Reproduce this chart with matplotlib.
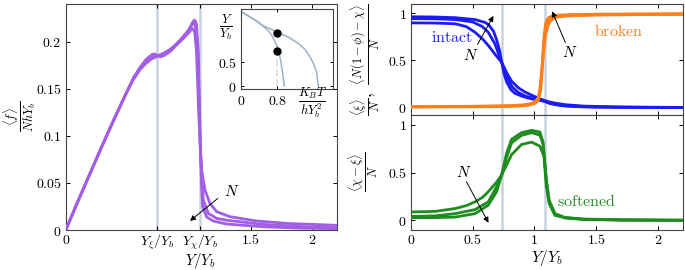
import matplotlib
matplotlib.use('Agg')
import matplotlib.pyplot as plt

plt.rcParams['mathtext.fontset'] = 'cm'
plt.rcParams['font.family'] = 'serif'
plt.rcParams['font.size'] = 10

# ---- data ----
y_xi = 0.74      # Y_xi / Y_b
y_chi = 1.09     # Y_chi / Y_b

# left panel: <f>/(N h Y_b), three N values (small, medium, large)
f_x_small = [0, 0.1, 0.2, 0.3, 0.4, 0.5, 0.55, 0.6, 0.65, 0.7, 0.74, 0.8, 0.85, 0.9, 0.95, 1.0, 1.025, 1.045,
             1.06, 1.08, 1.1, 1.129, 1.169, 1.224, 1.331, 1.548, 1.8, 2.2]
f_y_small = [0, 0.031, 0.061, 0.091, 0.12, 0.148, 0.16, 0.17, 0.177, 0.182, 0.1845, 0.188, 0.192, 0.197, 0.203,
             0.21, 0.214, 0.211, 0.19, 0.12, 0.065, 0.0425, 0.0283, 0.0195, 0.0142, 0.0096, 0.007, 0.005]
f_x_mid = [0, 0.1, 0.2, 0.3, 0.4, 0.5, 0.55, 0.6, 0.65, 0.7, 0.74, 0.77, 0.8, 0.85, 0.9, 0.95, 1.0, 1.035, 1.05,
           1.07, 1.09, 1.115, 1.156, 1.224, 1.3, 1.412, 1.6, 1.9, 2.2]
f_y_mid = [0, 0.031, 0.061, 0.091, 0.12, 0.148, 0.161, 0.172, 0.18, 0.185, 0.1855, 0.186, 0.188, 0.192, 0.198,
           0.205, 0.213, 0.22, 0.218, 0.19, 0.09, 0.032, 0.0177, 0.0124, 0.0105, 0.0088, 0.006, 0.0038, 0.0025]
f_x_large = [0, 0.1, 0.2, 0.3, 0.4, 0.5, 0.55, 0.6, 0.65, 0.7, 0.72, 0.745, 0.77, 0.8, 0.85, 0.9, 0.95, 1.0, 1.03,
             1.045, 1.06, 1.075, 1.09, 1.1, 1.11, 1.143, 1.196, 1.3, 1.412, 1.6, 1.9, 2.2]
f_y_large = [0, 0.031, 0.061, 0.091, 0.12, 0.148, 0.162, 0.172, 0.181, 0.1865, 0.187, 0.185, 0.184, 0.1855,
             0.19, 0.197, 0.204, 0.213, 0.221, 0.223, 0.219, 0.19, 0.1, 0.05, 0.025, 0.014, 0.0096, 0.0065,
             0.0053, 0.0035, 0.002, 0.0014]

# inset: phase diagram
ph_x_outer = [0, 0.2, 0.35, 0.46, 0.82, 1.05, 1.26, 1.4, 1.515, 1.6, 1.66, 1.70]
ph_y_outer = [1.58, 1.46, 1.37, 1.29, 1.13, 1.03, 0.90, 0.78, 0.62, 0.46, 0.30, 0.0]
ph_x_inner = [0, 0.2, 0.35, 0.46, 0.6, 0.678, 0.787, 0.84, 0.88, 0.93, 0.953]
ph_y_inner = [1.58, 1.46, 1.37, 1.29, 1.17, 1.076, 0.865, 0.70, 0.51, 0.196, 0.0]
dot_x = [0.8, 0.8]
dot_y = [1.11, 0.745]

# top right: intact and broken fractions
in_x_small = [0, 0.2, 0.36, 0.45, 0.52, 0.58, 0.627, 0.68, 0.736, 0.78, 0.816, 0.87, 0.924, 0.98, 1.032, 1.08,
              1.12, 1.167, 1.25, 1.4, 1.7, 2.2]
in_y_small = [0.90, 0.898, 0.89, 0.86, 0.80, 0.73, 0.66, 0.57, 0.48, 0.36, 0.28, 0.21, 0.165, 0.13, 0.10, 0.075,
              0.06, 0.047, 0.03, 0.015, 0.005, 0.001]
in_x_mid = [0, 0.2, 0.36, 0.5, 0.58, 0.627, 0.68, 0.736, 0.78, 0.82, 0.87, 0.93, 1.0, 1.06, 1.12, 1.2, 1.3, 1.5,
            1.8, 2.2]
in_y_mid = [0.945, 0.943, 0.935, 0.91, 0.86, 0.8, 0.68, 0.48, 0.32, 0.22, 0.16, 0.12, 0.095, 0.075, 0.05, 0.028,
            0.014, 0.005, 0.002, 0.0]
in_x_large = [0, 0.2, 0.36, 0.52, 0.6, 0.63, 0.67, 0.695, 0.72, 0.736, 0.755, 0.776, 0.81, 0.843, 0.9, 0.951, 1.0,
              1.05, 1.086, 1.12, 1.167, 1.25, 1.4, 1.7, 2.2]
in_y_large = [0.965, 0.962, 0.955, 0.935, 0.905, 0.88, 0.81, 0.72, 0.6, 0.48, 0.36, 0.27, 0.19, 0.15, 0.12, 0.1,
              0.085, 0.075, 0.064, 0.045, 0.03, 0.015, 0.006, 0.002, 0.0]

br_x_small = [0, 0.5, 0.8, 0.9, 0.95, 1.0, 1.03, 1.045, 1.06, 1.075, 1.09, 1.11, 1.13, 1.16, 1.2, 1.3, 1.5, 1.8, 2.2]
br_y_small = [0.01, 0.013, 0.02, 0.027, 0.035, 0.055, 0.1, 0.2, 0.4, 0.6, 0.76, 0.87, 0.92, 0.95, 0.965, 0.975,
              0.982, 0.987, 0.99]
br_x_mid = [0, 0.5, 0.8, 0.9, 0.95, 1.0, 1.03, 1.05, 1.06, 1.07, 1.08, 1.09, 1.1, 1.12, 1.15, 1.2, 1.3, 1.5, 1.8,
            2.2]
br_y_mid = [0.008, 0.01, 0.015, 0.02, 0.028, 0.045, 0.08, 0.18, 0.33, 0.52, 0.7, 0.83, 0.9, 0.945, 0.965, 0.975,
            0.982, 0.988, 0.991, 0.994]
br_x_large = [0, 0.5, 0.8, 0.9, 0.95, 1.0, 1.03, 1.05, 1.06, 1.07, 1.08, 1.09, 1.1, 1.12, 1.15, 1.2, 1.3, 1.5,
              1.8, 2.2]
br_y_large = [0.005, 0.007, 0.012, 0.017, 0.024, 0.04, 0.07, 0.18, 0.38, 0.6, 0.78, 0.88, 0.93, 0.96, 0.975,
              0.983, 0.988, 0.992, 0.995, 0.997]

# bottom right: softened fraction
so_x_small = [0, 0.2, 0.358, 0.45, 0.52, 0.58, 0.627, 0.695, 0.736, 0.776, 0.816, 0.897, 0.978, 1.045, 1.078,
              1.097, 1.12, 1.167, 1.25, 1.4, 1.7, 2.2]
so_y_small = [0.088, 0.095, 0.124, 0.155, 0.194, 0.24, 0.299, 0.40, 0.476, 0.58, 0.687, 0.793, 0.817, 0.775,
              0.669, 0.352, 0.176, 0.053, 0.03, 0.015, 0.007, 0.003]
so_x_mid = [0, 0.2, 0.358, 0.52, 0.627, 0.695, 0.736, 0.776, 0.816, 0.897, 0.978, 1.045, 1.07, 1.085, 1.097,
            1.12, 1.167, 1.25, 1.4, 1.7, 2.2]
so_y_mid = [0.042, 0.048, 0.071, 0.113, 0.194, 0.352, 0.476, 0.66, 0.81, 0.888, 0.916, 0.89, 0.8, 0.6, 0.423,
            0.211, 0.071, 0.03, 0.012, 0.005, 0.002]
so_x_large = [0, 0.2, 0.358, 0.52, 0.627, 0.695, 0.736, 0.776, 0.816, 0.897, 0.978, 1.045, 1.07, 1.085, 1.097,
              1.12, 1.167, 1.25, 1.4, 1.7, 2.2]
so_y_large = [0.028, 0.03, 0.035, 0.071, 0.159, 0.30, 0.476, 0.705, 0.846, 0.916, 0.94, 0.923, 0.82, 0.6, 0.42,
              0.19, 0.06, 0.025, 0.01, 0.004, 0.001]

x_ticks = [0, 0.5, 1, 1.5, 2]
x_ticklabels = ['$0$', '$0.5$', '$1$', '$1.5$', '$2$']

# ---- style ----
c_purple = '#a35ee6'
c_blue = '#1c1cf0'
c_orange = '#ff7f1a'
c_green = '#1f8c1f'
c_vline = '#c9d3df'
c_phase = '#9fb0c6'
lw = 2.0


def style_axes(ax):                                           # inward ticks on every side
    ax.tick_params(direction='in', top=True, right=True, length=3, width=0.7, labelsize=10, pad=3)
    for s in ax.spines.values():
        s.set_linewidth(0.8)
        s.set_color('#444444')


fig = plt.figure(figsize=(6.85, 2.7), dpi=100)

# ---- left panel ----
ax = fig.add_axes([0.096, 0.148, 0.396, 0.837])
for yv in (y_xi, y_chi):
    ax.axvline(yv, color=c_vline, lw=1.8, zorder=1)
for xs, ys in ((f_x_small, f_y_small), (f_x_mid, f_y_mid), (f_x_large, f_y_large)):
    ax.plot(xs, ys, color=c_purple, lw=lw, zorder=3)
ax.set_xlim(0, 2.2)
ax.set_ylim(0, 0.24)
ax.set_xticks([0, y_xi, y_chi, 1.5, 2])
ax.set_xticklabels(['$0$', r'$Y_\xi/Y_b$', r'$Y_\chi/Y_b$', '$1.5$', '$2$'])
ax.set_yticks([0, 0.05, 0.1, 0.15, 0.2])
ax.set_yticklabels(['$0$', '$0.05$', '$0.1$', '$0.15$', '$0.2$'])
style_axes(ax)
ax.tick_params(axis='x', pad=2)
# axis labels placed by hand, centred where the reference has them
fig.text(0.292, 0.032, r'$Y/Y_b$', fontsize=10.5, ha='center', va='center')
fig.text(0.028, 0.57, r'$\frac{\langle f\rangle}{NhY_b}$', fontsize=13, ha='center', va='center', rotation=90)
ax.annotate('', xy=(0.99, 0.0078), xytext=(1.25, 0.0354),
            arrowprops=dict(arrowstyle='-|>', color='k', lw=0.7, mutation_scale=8))
ax.text(1.28, 0.041, '$N$', fontsize=11, ha='left', va='center')

# inset
axi = fig.add_axes([0.3514, 0.669, 0.1347, 0.2966])
axi.plot(ph_x_outer, ph_y_outer, color=c_phase, lw=1.1)
axi.plot(ph_x_inner, ph_y_inner, color=c_phase, lw=1.1)
axi.plot([0.8, 0.8], [0, dot_y[1]], color='#d3dae2', lw=1.2, ls=(0, (4, 2)), zorder=1)
axi.plot(dot_x, dot_y, 'o', color='k', ms=5, zorder=4)
axi.set_xlim(0, 2.02)
axi.set_ylim(-0.07, 1.62)
axi.set_xticks([0, 0.8])
axi.set_xticklabels(['$0$', '$0.8$'])
axi.set_yticks([0, 0.5])
axi.set_yticklabels(['$0$', '$0.5$'])
style_axes(axi)
axi.tick_params(length=2.5, pad=3)
axi.text(-0.33, 1.25, r'$\frac{Y}{Y_b}$', fontsize=13, ha='center', va='center')
axi.text(1.57, -0.36, r'$\frac{K_BT}{hY_b^2}$', fontsize=13, ha='center', va='center')

# ---- top right panel ----
ax1 = fig.add_axes([0.5996, 0.574, 0.397, 0.411])
for yv in (y_xi, y_chi):
    ax1.axvline(yv, color=c_vline, lw=1.8, zorder=1)
for xs, ys in ((in_x_small, in_y_small), (in_x_mid, in_y_mid), (in_x_large, in_y_large)):
    ax1.plot(xs, ys, color=c_blue, lw=lw, zorder=3)
for xs, ys in ((br_x_small, br_y_small), (br_x_mid, br_y_mid), (br_x_large, br_y_large)):
    ax1.plot(xs, ys, color=c_orange, lw=lw, zorder=3)
ax1.set_xlim(0, 2.2)
ax1.set_ylim(-0.08, 1.1)
ax1.set_xticks(x_ticks)
ax1.set_xticklabels([])
ax1.set_yticks([0, 0.5, 1])
ax1.set_yticklabels(['$0$', '$0.5$', '$1$'])
style_axes(ax1)
fig.text(0.534, 0.78, r'$\frac{\langle\xi\rangle}{N},\ \frac{\langle N(1-\phi)-\chi\rangle}{N}$', fontsize=12.5,
         ha='center', va='center', rotation=90)
ax1.text(0.33, 0.745, r'$\mathrm{intact}$', color=c_blue, fontsize=11.5, ha='center', va='center')
ax1.text(1.68, 0.805, r'$\mathrm{broken}$', color=c_orange, fontsize=11.5, ha='center', va='center')
ax1.annotate('', xy=(0.68, 1.0), xytext=(0.53, 0.646),
             arrowprops=dict(arrowstyle='-|>', color='k', lw=0.7, mutation_scale=8))
ax1.text(0.485, 0.558, '$N$', fontsize=11, ha='center', va='center')
ax1.annotate('', xy=(1.135, 1.05), xytext=(1.26, 0.664),
             arrowprops=dict(arrowstyle='-|>', color='k', lw=0.7, mutation_scale=8))
ax1.text(1.29, 0.583, '$N$', fontsize=11, ha='center', va='center')

# ---- bottom right panel ----
ax2 = fig.add_axes([0.5996, 0.148, 0.397, 0.426])
for yv in (y_xi, y_chi):
    ax2.axvline(yv, color=c_vline, lw=1.8, zorder=1)
for xs, ys in ((so_x_small, so_y_small), (so_x_mid, so_y_mid), (so_x_large, so_y_large)):
    ax2.plot(xs, ys, color=c_green, lw=lw, zorder=3)
ax2.set_xlim(0, 2.2)
ax2.set_ylim(-0.1, 1.1)
ax2.set_xticks(x_ticks)
ax2.set_xticklabels(x_ticklabels)
ax2.set_yticks([0, 0.5, 1])
ax2.set_yticklabels(['$0$', '$0.5$', '$1$'])
style_axes(ax2)
ax2.tick_params(axis='x', pad=2)
fig.text(0.798, 0.045, r'$Y/Y_b$', fontsize=11, ha='center', va='center')
fig.text(0.53, 0.363, r'$\frac{\langle\chi-\xi\rangle}{N}$', fontsize=12.5, ha='center', va='center', rotation=90)
ax2.text(1.42, 0.2, r'$\mathrm{softened}$', color=c_green, fontsize=11.5, ha='center', va='center')
ax2.annotate('', xy=(0.64, -0.05), xytext=(0.44, 0.43),
             arrowprops=dict(arrowstyle='-|>', color='k', lw=0.7, mutation_scale=8))
ax2.text(0.425, 0.5, '$N$', fontsize=11, ha='center', va='center')

fig.savefig('out.png', dpi=100)
